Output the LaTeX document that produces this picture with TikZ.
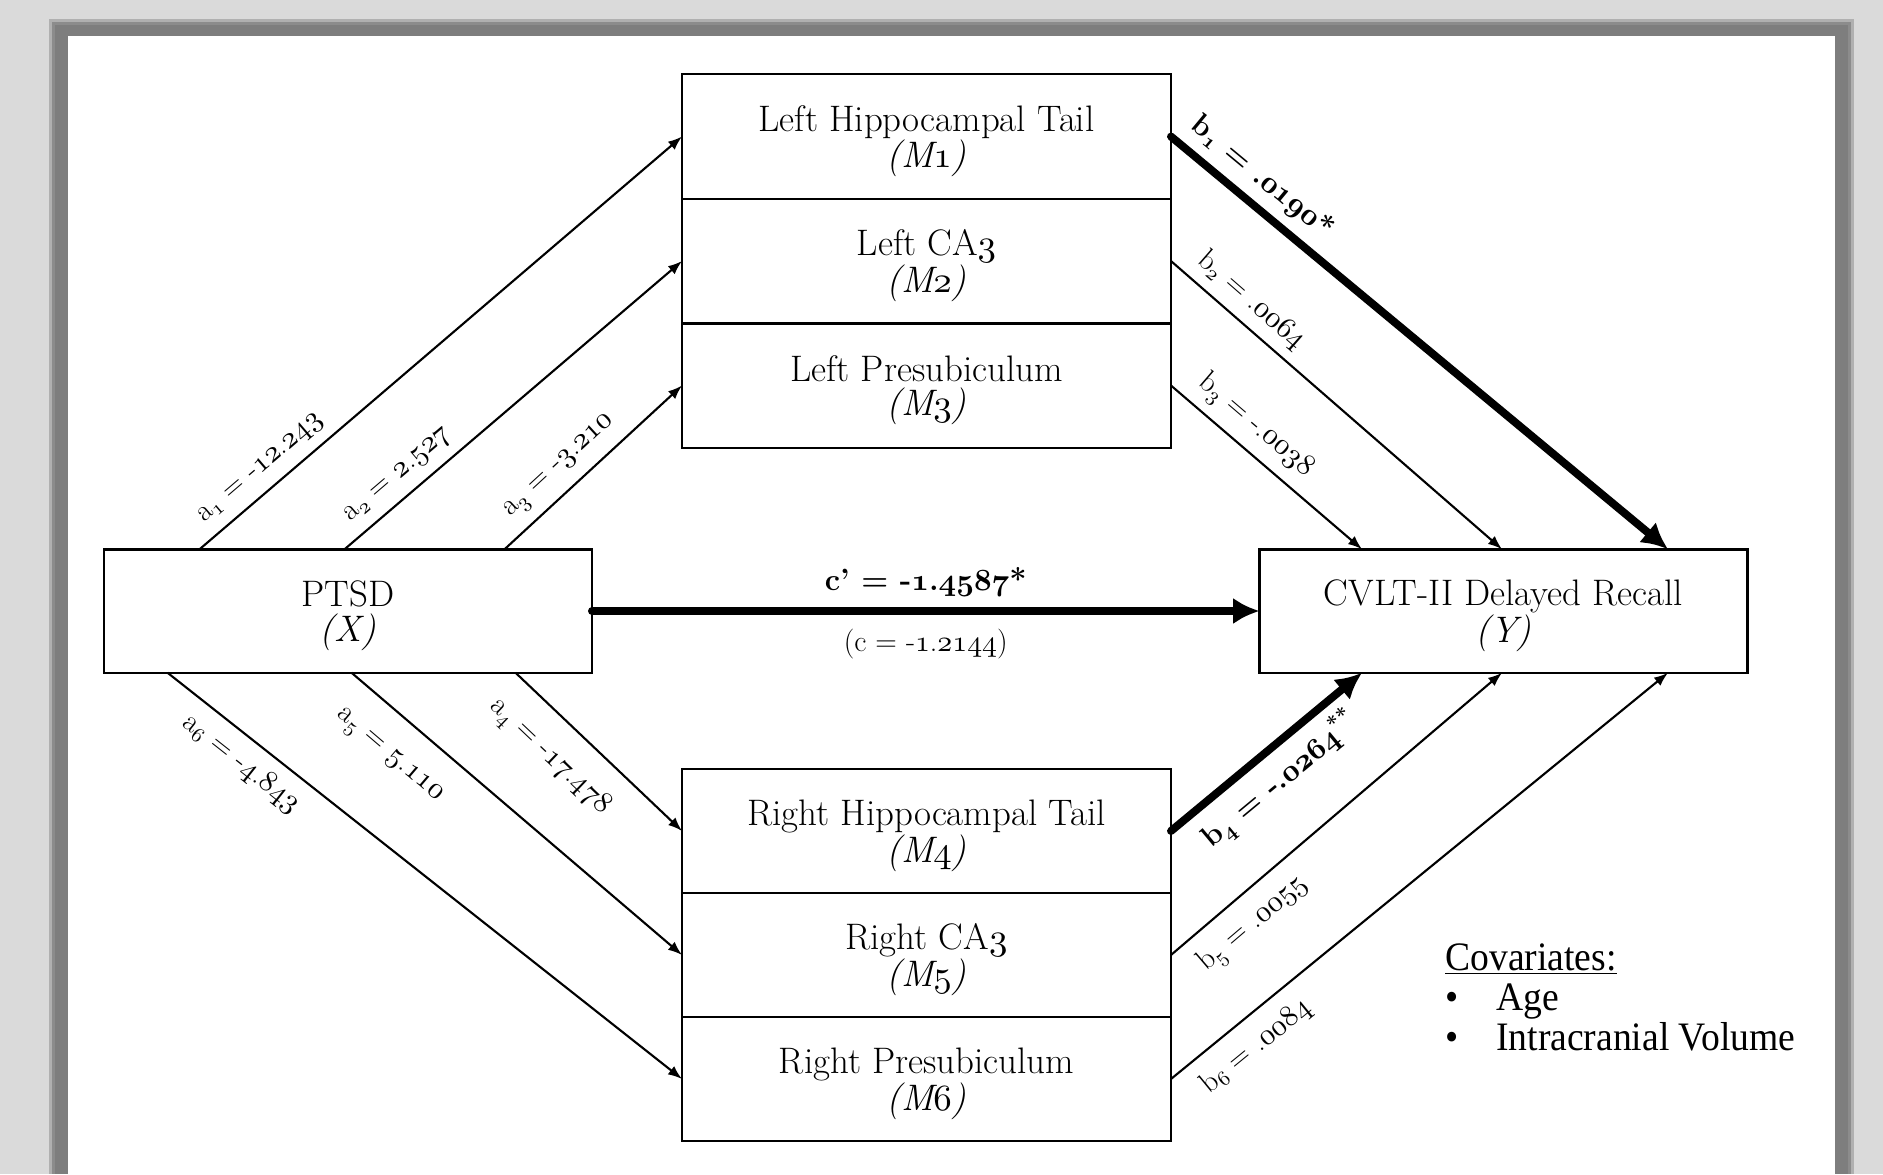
\documentclass[tikz,border=0pt]{standalone}
\usepackage{fontspec}
\newfontfamily\covfont[FakeStretch=0.93]{Liberation Serif}
\usetikzlibrary{arrows.meta,calc}
\DeclareFontFamily{OML}{osf}{}
\DeclareFontShape{OML}{osf}{m}{it}{<-> cmmi10}{}
\DeclareFontShape{OML}{osf}{b}{it}{<-> cmmib10}{}
\DeclareFontShape{OML}{osf}{bx}{it}{<-> cmmib10}{}
\makeatletter
\newcommand\on[1]{{\usefont{OML}{osf}{\f@series}{it}#1}}
\makeatother
\newcommand\nodp[1]{\raisebox{0pt}[\height][0pt]{#1}}
\definecolor{bggray}{RGB}{218,218,218}
\definecolor{shadA}{RGB}{176,176,176}
\definecolor{shadB}{RGB}{140,140,140}
\definecolor{shadC}{RGB}{126,126,126}
\begin{document}
\begin{tikzpicture}[x=0.02cm,y=-0.02cm,
  box/.style={draw, line width=1.4pt, inner sep=0pt, outer sep=0pt, align=center,
    font=\fontsize{21}{19.5}\selectfont},
  mbox/.style={box, minimum width=9.78cm, minimum height=2.49cm},
  endbox/.style={box, minimum width=9.76cm, minimum height=2.47cm},
  thinarr/.style={line width=1.2pt, -{Latex[length=8pt,width=6pt]}},
  boldarr/.style={line width=4.5pt, line cap=round, -{Latex[length=15pt,width=15pt]}},
  lab/.style={sloped, inner sep=1pt, font=\fontsize{17}{17}\selectfont},
  clab/.style={inner sep=0pt, anchor=base},
]
% background, page shadow, page
\fill[bggray] (0,0) rectangle (1883,1174);
\useasboundingbox (0,0) rectangle (1883,1174);
\fill[shadA] (49,19) rectangle (1854,1174);
\fill[shadB] (52,22) rectangle (1851,1174);
\fill[shadC] (55,25) rectangle (1848,1174);
\fill[white] (68,36) rectangle (1835,1174);

% mediator boxes
\node[mbox] (m1) at (926.5,136.5) {Left Hippocampal Tail\\\nodp{\itshape(M\on{1})}};
\node[mbox] (m2) at (926.5,261)   {Left CA\on{3}\\\nodp{\itshape(M\on{2})}};
\node[mbox] (m3) at (926.5,385.5) {Left Presubiculum\\\nodp{\itshape(M\on{3})}};
\node[mbox] (m4) at (926.5,831)   {Right Hippocampal Tail\\\nodp{\itshape(M\on{4})}};
\node[mbox] (m5) at (926.5,955)   {Right CA\on{3}\\\nodp{\itshape(M\on{5})}};
\node[mbox] (m6) at (926.5,1079)  {Right Presubiculum\\\nodp{\itshape(M\on{6})}};

% X and Y
\node[endbox] (ptsd) at (348,611)    {PTSD\\\nodp{\itshape(X)}};
\node[endbox] (cvlt) at (1503.5,611) {CVLT-II Delayed Recall\\\nodp{\itshape(Y)}};

% anchor points on the X and Y boxes
\coordinate (s1) at ($(ptsd.north west)+(95.5,0)$);
\coordinate (s2) at ($(ptsd.north west)+(240.5,0)$);
\coordinate (s3) at ($(ptsd.north west)+(400.5,0)$);
\coordinate (s6) at ($(ptsd.south west)+(63.5,0)$);
\coordinate (s5) at ($(ptsd.south west)+(247.5,0)$);
\coordinate (s4) at ($(ptsd.south west)+(411.5,0)$);
\coordinate (t3) at ($(cvlt.north west)+(102.5,0)$);
\coordinate (t2) at ($(cvlt.north west)+(242.5,0)$);
\coordinate (t1) at ($(cvlt.north west)+(408.5,0)$);
\coordinate (t4) at ($(cvlt.south west)+(102.5,0)$);
\coordinate (t5) at ($(cvlt.south west)+(242.5,0)$);
\coordinate (t6) at ($(cvlt.south west)+(408.5,0)$);

% a paths
\draw[thinarr] (s1) -- node[lab, pos=0.156, above=5pt] (la1) {a\textsubscript{\on{1}} = -\on{12}.\on{243}} (m1.west);
\draw[thinarr] (s2) -- node[lab, pos=0.20, above=5pt] (la2) {a\textsubscript{\on{2}} = \on{2}.\on{527}} (m2.west);
\draw[thinarr] (s3) -- node[lab, pos=0.40, above=5pt] (la3) {a\textsubscript{\on{3}} = -\on{3}.\on{210}} (m3.west);
\draw[thinarr] (s4) -- node[lab, pos=0.36, below=12pt] (la4) {a\textsubscript{\on{4}} = -\on{17}.\on{478}} (m4.west);
\draw[thinarr] (s5) -- node[lab, pos=0.19, below=15pt] (la5) {a\textsubscript{\on{5}} = \on{5}.\on{110}} (m5.west);
\draw[thinarr] (s6) -- node[lab, pos=0.174, below=6pt] (la6) {a\textsubscript{\on{6}} = -\on{4}.\on{843}} (m6.west);

% b paths
\draw[boldarr] (m1.east) -- node[lab, pos=0.149, above=4pt] (lb1) {\bfseries b\textsubscript{\on{1}} = .\on{0190}*} (t1);
\draw[thinarr] (m2.east) -- node[lab, pos=0.197, above=4pt] (lb2) {b\textsubscript{\on{2}} = .\on{0064}} (t2);
\draw[thinarr] (m3.east) -- node[lab, pos=0.36, above=4pt] (lb3) {b\textsubscript{\on{3}} = -.\on{0038}} (t3);
\draw[boldarr] (m4.east) -- node[lab, pos=0.47, below=4pt] (lb4) {\bfseries b\textsubscript{\on{4}} = -.\on{0264}\textsuperscript{**}} (t4);
\draw[thinarr] (m5.east) -- node[lab, pos=0.19, below=7pt] (lb5) {b\textsubscript{\on{5}} = .\on{0055}} (t5);
\draw[thinarr] (m6.east) -- node[lab, pos=0.135, below=7pt] (lb6) {b\textsubscript{\on{6}} = .\on{0084}} (t6);

% direct path
\draw[boldarr] (ptsd.east) --
  node[clab, pos=0.5, yshift=11.4pt, font=\fontsize{17.5}{17.5}\selectfont] (lc1) {\bfseries c’ = -\on{1}.\on{4587}*}
  node[clab, pos=0.5, yshift=-23pt, font=\fontsize{17}{17}\selectfont] (lc2) {(c = -\on{1}.\on{2144})}
  (cvlt.west);

% covariates
\node[anchor=base west, inner sep=0pt, font=\covfont\fontsize{23}{23}\selectfont] (cov) at (1445,970)
  {\begin{tabular}[t]{@{}p{29pt}@{}l@{}}
   \multicolumn{2}{@{}l@{}}{\underline{Covariates:}}\\
   \textbullet & Age\\
   \textbullet & Intracranial Volume
   \end{tabular}};
\end{tikzpicture}
\end{document}
